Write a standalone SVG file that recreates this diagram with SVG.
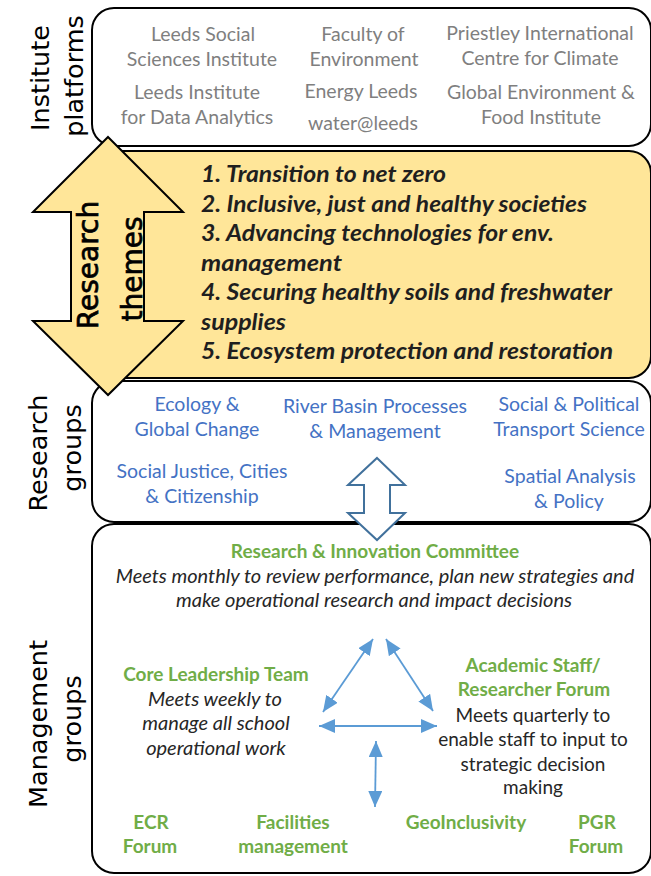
<svg xmlns="http://www.w3.org/2000/svg" width="651" height="876" viewBox="0 0 651 876">
<defs>
<style>
.box{fill:#fff;stroke:#000;stroke-width:2}
.yel{fill:#FFE699;stroke:#000;stroke-width:2}
.side{font-family:"DejaVu Sans",sans-serif;font-size:25.5px;fill:#000;text-anchor:middle}
.rt{font-family:"DejaVu Sans",sans-serif;font-size:28px;fill:#000;stroke:#000;stroke-width:0.7;text-anchor:middle}
.grey{font-family:Lato,"Liberation Sans",sans-serif;font-size:19.5px;fill:#7F7F7F;text-anchor:middle}
.blue{font-family:Lato,"Liberation Sans",sans-serif;font-size:19.5px;fill:#4472C4;text-anchor:middle}
.theme{font-family:Lato,"Liberation Sans",sans-serif;font-size:23px;font-weight:bold;font-style:italic;fill:#1F1F1F}
.green{font-family:Lato,"Liberation Sans",sans-serif;font-size:19px;font-weight:bold;fill:#70AD47;text-anchor:middle}
.it{font-family:Lato,"Liberation Sans",sans-serif;font-size:20px;font-style:italic;fill:#262626;text-anchor:middle}
.reg{font-family:Lato,"Liberation Sans",sans-serif;font-size:19px;fill:#262626;text-anchor:middle}
.thin{stroke:#5B9BD5;stroke-width:1.8;fill:none}
.block{fill:#fff;stroke:#41719C;stroke-width:2}
</style>
<marker id="ah" markerUnits="userSpaceOnUse" markerWidth="16" markerHeight="14" refX="16" refY="7" orient="auto-start-reverse" viewBox="0 0 16 14">
<path d="M0,0 L16,7 L0,14 z" fill="#5B9BD5"/>
</marker>
</defs>

<g id="institute-platforms">
<rect class="box" x="92" y="8" width="559" height="138" rx="22"/>
<text class="side" transform="translate(49,78) rotate(-90)">Institute</text>
<text class="side" transform="translate(83,76) rotate(-90)">platforms</text>
<text class="grey" x="203" y="41">Leeds Social</text>
<text class="grey" x="202" y="66">Sciences Institute</text>
<text class="grey" x="363" y="41">Faculty of</text>
<text class="grey" x="364" y="66">Environment</text>
<text class="grey" x="540" y="40">Priestley International</text>
<text class="grey" x="540" y="65">Centre for Climate</text>
<text class="grey" x="197" y="99">Leeds Institute</text>
<text class="grey" x="197" y="124">for Data Analytics</text>
<text class="grey" x="361" y="98">Energy Leeds</text>
<text class="grey" x="363" y="130">water@leeds</text>
<text class="grey" x="541" y="99">Global Environment &amp;</text>
<text class="grey" x="541" y="124">Food Institute</text>
</g>

<g id="research-themes-box">
<rect class="yel" x="92" y="151" width="559" height="227" rx="22"/>
<text class="theme" x="201" y="182" textLength="245" lengthAdjust="spacingAndGlyphs">1. Transition to net zero</text>
<text class="theme" x="201" y="212" textLength="386" lengthAdjust="spacingAndGlyphs">2. Inclusive, just and healthy societies</text>
<text class="theme" x="201" y="241" textLength="353" lengthAdjust="spacingAndGlyphs">3. Advancing technologies for env.</text>
<text class="theme" x="201" y="271" textLength="141" lengthAdjust="spacingAndGlyphs">management</text>
<text class="theme" x="201" y="300" textLength="411" lengthAdjust="spacingAndGlyphs">4. Securing healthy soils and freshwater</text>
<text class="theme" x="201" y="330" textLength="85" lengthAdjust="spacingAndGlyphs">supplies</text>
<text class="theme" x="201" y="359" textLength="412" lengthAdjust="spacingAndGlyphs">5. Ecosystem protection and restoration</text>
</g>

<g id="research-groups">
<rect class="box" x="92" y="381" width="559" height="141" rx="22"/>
<text class="side" transform="translate(47,453) rotate(-90)">Research</text>
<text class="side" transform="translate(81,448) rotate(-90)">groups</text>
<text class="blue" x="197" y="411">Ecology &amp;</text>
<text class="blue" x="197" y="436">Global Change</text>
<text class="blue" x="375" y="413">River Basin Processes</text>
<text class="blue" x="375" y="438">&amp; Management</text>
<text class="blue" x="569" y="411">Social &amp; Political</text>
<text class="blue" x="569" y="436">Transport Science</text>
<text class="blue" x="202" y="478">Social Justice, Cities</text>
<text class="blue" x="202" y="503">&amp; Citizenship</text>
<text class="blue" x="570" y="483">Spatial Analysis</text>
<text class="blue" x="569" y="508">&amp; Policy</text>
</g>

<g id="management-groups">
<rect class="box" x="92" y="524" width="559" height="349" rx="22"/>
<text class="side" transform="translate(47,724) rotate(-90)">Management</text>
<text class="side" transform="translate(81,719) rotate(-90)">groups</text>
</g>

<g id="research-innovation-committee">
<text class="green" x="375" y="558">Research &amp; Innovation Committee</text>
<text class="it" x="375" y="583">Meets monthly to review performance, plan new strategies and</text>
<text class="it" x="374" y="607">make operational research and impact decisions</text>
</g>

<g id="core-leadership-team">
<text class="green" x="216" y="681">Core Leadership Team</text>
<text class="it" x="215" y="706">Meets weekly to</text>
<text class="it" x="216" y="730">manage all school</text>
<text class="it" x="216" y="755">operational work</text>
</g>

<g id="academic-staff-forum">
<text class="green" x="533" y="672">Academic Staff/</text>
<text class="green" x="534" y="696">Researcher Forum</text>
<text class="reg" x="533" y="722">Meets quarterly to</text>
<text class="reg" x="533" y="746">enable staff to input to</text>
<text class="reg" x="533" y="771">strategic decision</text>
<text class="reg" x="533" y="794">making</text>
</g>

<g id="ecr-forum">
<text class="green" x="151" y="829">ECR</text>
<text class="green" x="150" y="853">Forum</text>
</g>
<g id="facilities-management">
<text class="green" x="293" y="829">Facilities</text>
<text class="green" x="293" y="853">management</text>
</g>
<g id="geoinclusivity">
<text class="green" x="466" y="829">GeoInclusivity</text>
</g>
<g id="pgr-forum">
<text class="green" x="597" y="829">PGR</text>
<text class="green" x="596" y="853">Forum</text>
</g>

<g id="research-themes">
<polygon class="yel" points="108,137 183,212 144,212 144,321 183,321 108,395 33,321 71,321 71,212 33,212"/>
<text class="rt" transform="translate(98,265) rotate(-90)">Research</text>
<text class="rt" transform="translate(142,269) rotate(-90)">themes</text>
</g>

<g id="connectors">
<polygon class="block" points="377,458 405,485 390,485 390,513 405,513 377,540 348,513 364,513 364,485 348,485"/>
<line class="thin" x1="373" y1="639" x2="323" y2="712" marker-start="url(#ah)" marker-end="url(#ah)"/>
<line class="thin" x1="386" y1="639" x2="433" y2="711" marker-start="url(#ah)" marker-end="url(#ah)"/>
<line class="thin" x1="319" y1="726" x2="437" y2="726" marker-start="url(#ah)" marker-end="url(#ah)"/>
<line class="thin" x1="376" y1="741" x2="375" y2="807" marker-start="url(#ah)" marker-end="url(#ah)"/>
</g>
</svg>
